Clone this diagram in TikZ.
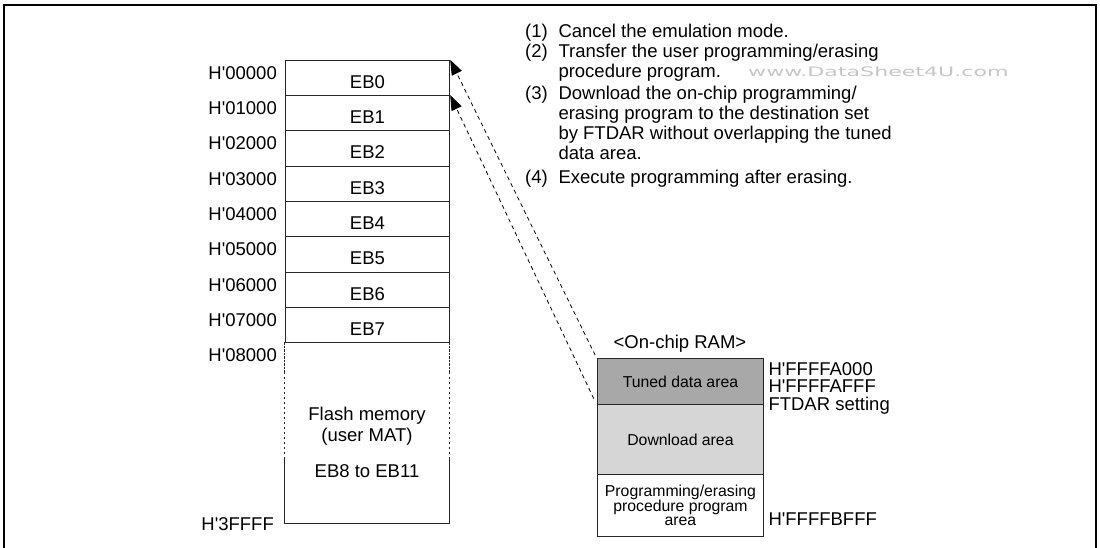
\documentclass[tikz,border=0pt]{standalone}
\usepackage{fontspec}
\setmainfont{Liberation Sans}
\newfontfamily\wmfont{DejaVu Sans}
\usetikzlibrary{arrows.meta}
\definecolor{tunedgray}{gray}{0.66}
\definecolor{dlgray}{gray}{0.84}
\newcommand\hq{H\textquotesingle}
\begin{document}
\begin{tikzpicture}[x=1pt,y=-1pt,
  txt/.style={font=\fontsize{18.5}{22}\selectfont, inner sep=0pt},
  smalltxt/.style={font=\fontsize{15.8}{14}\selectfont, inner sep=0pt},
  memline/.style={draw=black!85, line width=0.9pt},
  blk/.style={memline, minimum width=164.6pt, minimum height=35.3pt, inner sep=0pt,
    anchor=north west, txt, text height=21pt, text depth=0pt},
  ram/.style={memline, anchor=north west, minimum width=166.6pt, inner sep=0pt, smalltxt},
  dashline/.style={black, line width=0.8pt, dash pattern=on 4pt off 3.5pt},
  tip/.style={-{Triangle[length=15pt,width=11pt]}}
]
\useasboundingbox (0,0) rectangle (1100,548);
% frame
\draw[line width=2.3pt] (3.8,552) -- (3.8,5) -- (1096,5) -- (1096,552);

% flash blocks
\foreach \i in {0,...,7}
  \node[blk] (eb\i) at (284.7, 59.8+35.3*\i) {EB\i};
\foreach \i/\a in {0/00000,1/01000,2/02000,3/03000,4/04000,5/05000,6/06000,7/07000,8/08000}
  \node[txt, anchor=base east] (addr\i) at (277, 79.4+35.3*\i) {\hq\a};

\node[anchor=north west, minimum width=164.6pt, minimum height=181.1pt, inner sep=0pt] (flash) at (284.7,342.2) {};
\draw[memline, dash pattern=on 2.5pt off 1pt] (flash.north west) -- ([yshift=-30pt]flash.north west);
\draw[memline, dash pattern=on 2.5pt off 1pt] (flash.north east) -- ([yshift=-30pt]flash.north east);
\draw[memline, dash pattern=on 2pt off 3pt] ([yshift=-30pt]flash.north west) -- ([yshift=-115pt]flash.north west);
\draw[memline, dash pattern=on 2pt off 3pt] ([yshift=-30pt]flash.north east) -- ([yshift=-115pt]flash.north east);
\draw[memline] ([yshift=-115pt]flash.north west) -- (flash.south west) -- (flash.south east) -- ([yshift=-115pt]flash.north east);
\node[txt, anchor=base] (fl1) at (367,420) {Flash memory};
\node[txt, anchor=base] (fl2) at (367,441) {(user MAT)};
\node[txt, anchor=base] (fl3) at (367,477.3) {EB8 to EB11};
\node[txt, anchor=base east] (addrend) at (274,530.5) {\hq3FFFF};

% on-chip RAM
\node[txt, anchor=base] (ramtitle) at (680,348.3) {<On-chip RAM>};
\node[ram, fill=tunedgray, minimum height=45.7pt] (tuned) at (596.7,358.3) {Tuned data area};
\node[ram, fill=dlgray, minimum height=70pt, text height=13pt, text depth=0pt] (dl) at (596.7,404) {Download area};
\node[ram, fill=white, minimum height=62pt, align=center] (proc) at (596.7,474) {Programming/erasing\\procedure program\\area};
\node[txt, anchor=base west] (r1) at (768.3,375) {\hq FFFFA000};
\node[txt, anchor=base west] (r2) at (768.3,392.5) {\hq FFFFAFFF};
\node[txt, anchor=base west] (r3) at (768.3,410.5) {FTDAR setting};
\node[txt, anchor=base west] (r4) at (768.3,525) {\hq FFFFBFFF};

% connectors
\draw[dashline, tip, shorten <=3.5pt] (tuned.north west) -- (eb0.north east);
\draw[dashline, tip, shorten <=7pt] (tuned.south west) -- (eb1.north east);

% procedure list
\node[txt, anchor=base west] (n1) at (525,37.3) {(1)};
\node[txt, anchor=base west] (t1) at (558.3,37.3) {Cancel the emulation mode.};
\node[txt, anchor=base west] (n2) at (525,57.3) {(2)};
\node[txt, anchor=base west] (t2) at (558.3,57.3) {Transfer the user programming/erasing};
\node[txt, anchor=base west] (t2b) at (558.3,77.5) {procedure program.};
\node[txt, anchor=base west] (n3) at (525,100) {(3)};
\node[txt, anchor=base west] (t3) at (558.3,100) {Download the on-chip programming/};
\node[txt, anchor=base west] (t3b) at (558.3,120) {erasing program to the destination set};
\node[txt, anchor=base west] (t3c) at (558.3,140) {by FTDAR without overlapping the tuned};
\node[txt, anchor=base west] (t3d) at (558.3,160) {data area.};
\node[txt, anchor=base west] (n4) at (525,184) {(4)};
\node[txt, anchor=base west] (t4) at (558.3,184) {Execute programming after erasing.};

% watermark
\node[anchor=base west, inner sep=0pt, text=gray!45, font=\wmfont\fontsize{13}{15}\selectfont] (wm) at (748,77) {\scalebox{1.7}[1]{www.DataSheet4U.com}};
\end{tikzpicture}
\end{document}
